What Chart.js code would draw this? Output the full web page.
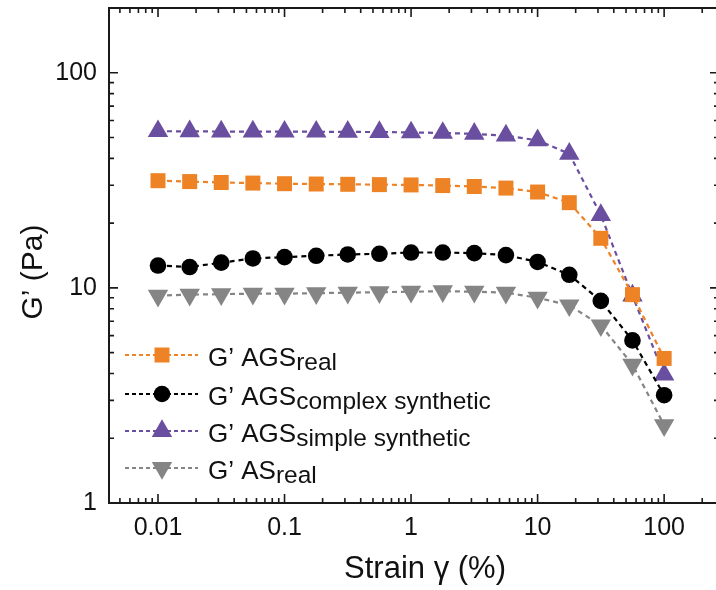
<!DOCTYPE html>
<html>
<head>
<meta charset="utf-8">
<script src="https://cdn.jsdelivr.net/npm/chart.js@4.4.1/dist/chart.umd.min.js"></script>
<style>
  html, body { margin: 0; padding: 0; background: #fff; overflow: hidden; }
  #c { display: block; }
</style>
</head>
<body>
<canvas id="c" width="716" height="590" style="width:716px;height:590px"></canvas>
<script>
// ---- data ----
const strain = [0.01, 0.0178, 0.0316, 0.0562, 0.1, 0.178, 0.316, 0.562, 1, 1.78, 3.16, 5.62, 10, 17.8, 31.6, 56.2, 100];
const agsReal    = [31.5, 31.2, 30.9, 30.7, 30.5, 30.4, 30.3, 30.2, 30.1, 29.9, 29.6, 29.1, 27.9, 24.9, 17.0, 9.3, 4.7];
const agsComplex = [12.7, 12.5, 13.1, 13.7, 13.9, 14.1, 14.3, 14.4, 14.6, 14.6, 14.5, 14.2, 13.2, 11.5, 8.7, 5.7, 3.17];
const agsSimple  = [53.5, 53.4, 53.3, 53.3, 53.2, 53.2, 53.1, 53.0, 52.8, 52.5, 52.0, 51.0, 48.5, 42.0, 21.8, 9.2, 3.95];
const asReal     = [9.2, 9.3, 9.35, 9.4, 9.4, 9.45, 9.5, 9.55, 9.6, 9.65, 9.6, 9.5, 9.0, 8.3, 6.7, 4.4, 2.3];
const xTickLabels = [0.01, 0.1, 1, 10, 100];
const yTickLabels = [1, 10, 100];
const seriesNames = [
  ["G\u2019 AGS", "real"],
  ["G\u2019 AGS", "complex synthetic"],
  ["G\u2019 AGS", "simple synthetic"],
  ["G\u2019 AS", "real"]
];
const xTitle = "Strain \u03b3 (%)";
const yTitle = "G\u2019 (Pa)";

const FONT = '"Liberation Sans", Arial, Helvetica, sans-serif';
const ORANGE = '#EE8326', BLACK = '#000000', PURPLE = '#6A4EA0', GRAY = '#858585';

function pts(arr) { return strain.map((x, i) => ({ x: x, y: arr[i] })); }

const styles = [
  { color: ORANGE, pointStyle: 'rect', radius: 10.6, rot: 0 },
  { color: BLACK, pointStyle: 'circle', radius: 8.3, rot: 0 },
  { color: PURPLE, pointStyle: 'triangle', radius: 11.8, rot: 0 },
  { color: GRAY, pointStyle: 'triangle', radius: 11.8, rot: 180 }
];
const seriesData = [agsReal, agsComplex, agsSimple, asReal];

const datasets = seriesData.map((arr, i) => ({
  label: seriesNames[i].join(''),
  data: pts(arr),
  borderColor: styles[i].color,
  backgroundColor: styles[i].color,
  borderWidth: 2.2,
  borderDash: [5, 4],
  pointStyle: styles[i].pointStyle,
  pointRadius: styles[i].radius,
  pointRotation: styles[i].rot,
  pointBorderWidth: 0,
  pointBackgroundColor: styles[i].color,
  tension: 0,
  clip: false
}));

function minorValues(min, max) {
  const out = [];
  for (let e = -4; e <= 3; e++) {
    for (let m = 1; m <= 9; m++) {
      const v = m * Math.pow(10, e);
      if (v > min * 1.0001 && v < max * 0.9999) out.push({ v: v, major: m === 1 });
    }
  }
  return out;
}

const framePlugin = {
  id: 'framePlugin',
  afterDraw(chart) {
    const ctx = chart.ctx, a = chart.chartArea;
    const xs = chart.scales.x, ys = chart.scales.y;
    const rightX = a.right + 3;
    ctx.save();
    ctx.strokeStyle = '#1a1a1a';
    ctx.lineWidth = 2;
    ctx.beginPath();
    ctx.moveTo(rightX, a.top); ctx.lineTo(a.left, a.top);
    ctx.lineTo(a.left, a.bottom); ctx.lineTo(rightX, a.bottom);
    ctx.stroke();
    ctx.lineWidth = 1.6;
    ctx.beginPath();
    minorValues(xs.min, xs.max).forEach(t => {
      const px = xs.getPixelForValue(t.v);
      const len = t.major ? 9 : 5;
      ctx.moveTo(px, a.bottom); ctx.lineTo(px, a.bottom - len);
      ctx.moveTo(px, a.top); ctx.lineTo(px, a.top + len);
    });
    minorValues(ys.min, ys.max).forEach(t => {
      const py = ys.getPixelForValue(t.v);
      const len = t.major ? 9 : 5;
      ctx.moveTo(a.left, py); ctx.lineTo(a.left + len, py);
      ctx.moveTo(rightX, py); ctx.lineTo(rightX - len, py);
    });
    ctx.stroke();

    // axis titles
    ctx.fillStyle = '#111';
    ctx.font = '31px ' + FONT;
    ctx.textAlign = 'center';
    ctx.textBaseline = 'alphabetic';
    ctx.fillText(xTitle, 425, 578);
    ctx.save();
    ctx.translate(42, 272);
    ctx.rotate(-Math.PI / 2);
    ctx.font = '30px ' + FONT;
    ctx.fillText(yTitle, 0, 0);
    ctx.restore();

    // legend
    const rows = [355, 394, 431, 468];
    rows.forEach((ry, i) => {
      const st = styles[i];
      ctx.save();
      ctx.strokeStyle = st.color;
      ctx.lineWidth = 1.8;
      ctx.setLineDash([4, 3]);
      ctx.beginPath();
      ctx.moveTo(125, ry); ctx.lineTo(198, ry);
      ctx.stroke();
      ctx.restore();
      ctx.fillStyle = st.color;
      Chart.helpers.drawPoint(ctx, {
        pointStyle: st.pointStyle, radius: st.radius, rotation: st.rot, borderWidth: 0
      }, 162, ry);
      ctx.fillStyle = '#111';
      ctx.textAlign = 'left';
      ctx.textBaseline = 'alphabetic';
      ctx.font = '26px ' + FONT;
      const main = seriesNames[i][0];
      ctx.fillText(main, 208, ry + 11);
      const w = ctx.measureText(main).width;
      ctx.font = '24.5px ' + FONT;
      ctx.fillText(seriesNames[i][1], 208 + w, ry + 15);
    });
    ctx.restore();
  }
};

new Chart(document.getElementById('c'), {
  type: 'line',
  data: { datasets: datasets },
  options: {
    responsive: false,
    maintainAspectRatio: false,
    devicePixelRatio: 1,
    animation: false,
    layout: { autoPadding: false, padding: { top: 8, right: 0, left: 0, bottom: 0 } },
    plugins: { legend: { display: false }, tooltip: { enabled: false } },
    scales: {
      x: {
        type: 'logarithmic',
        min: 0.0041,
        max: 257,
        afterBuildTicks: s => { s.ticks = xTickLabels.map(v => ({ value: v })); },
        afterFit: s => { s.height = 87; s.paddingLeft = 0; s.paddingRight = 0; },
        grid: { display: true, drawOnChartArea: false, drawTicks: false },
        border: { display: false },
        ticks: {
          autoSkip: false, maxRotation: 0, padding: 10,
          color: '#111', font: { family: FONT, size: 25 },
          callback: v => String(v)
        }
      },
      y: {
        type: 'logarithmic',
        min: 1,
        max: 200,
        afterBuildTicks: s => { s.ticks = yTickLabels.map(v => ({ value: v })); },
        afterFit: s => { s.width = 109; s.paddingTop = 0; s.paddingBottom = 0; },
        grid: { display: true, drawOnChartArea: false, drawTicks: false },
        border: { display: false },
        ticks: {
          autoSkip: false, padding: 12,
          color: '#111', font: { family: FONT, size: 25 },
          callback: v => String(v)
        }
      }
    }
  },
  plugins: [framePlugin]
});
</script>
</body>
</html>
